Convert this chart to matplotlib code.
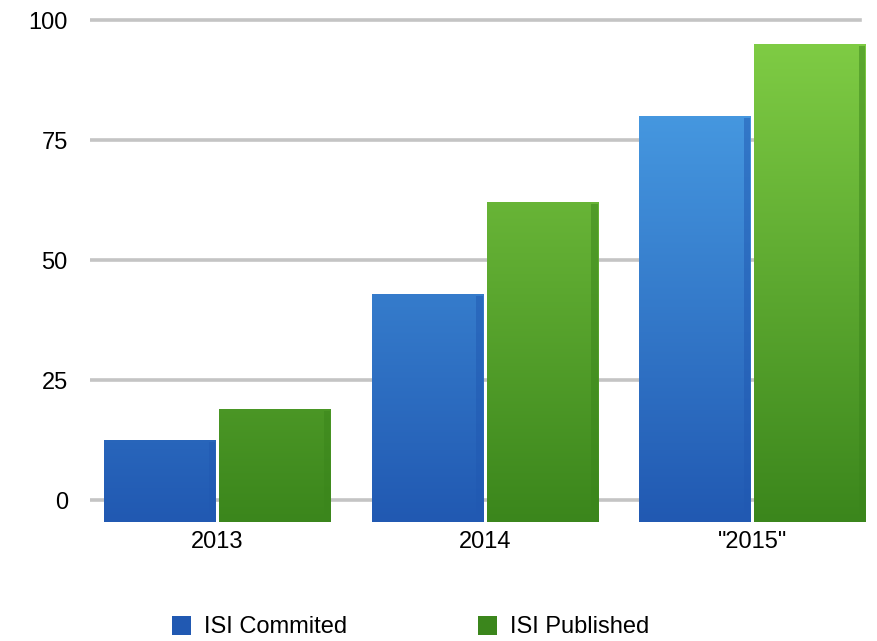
"""Grouped bars: ISI committed vs. published per year, Keynote-style gradient fill."""

import numpy as np
import matplotlib

matplotlib.use("Agg")
import matplotlib.pyplot as plt
from matplotlib.colors import LinearSegmentedColormap
from matplotlib.patches import Patch

years = ["2013", "2014", '"2015"']
committed = [12.5, 43, 80]
published = [19, 62, 95]
series_names = ["ISI Commited", "ISI Published"]
y_ticks = [0, 25, 50, 75, 100]

# top / bottom colour of each series' gradient (spans the full value range)
BLUE = ("#4ea6ea", "#2159b2")
GREEN = ("#82cf46", "#3b861c")
FLOOR = -4.5  # bars start slightly in front of the zero line, like the 3D floor
TOP = 100
BAR_W = 0.415

plt.rcParams["font.family"] = ["Liberation Sans", "DejaVu Sans"]

fig = plt.figure(figsize=(8.77, 6.41), dpi=100)
ax = fig.add_axes([90 / 877, 1 - 530 / 641, 780 / 877, 530 / 641])

for t in y_ticks:
    ax.axhline(t, xmin=0, xmax=0.987, color="#c4c4c4", lw=2.6, zorder=0)


def gradient_bar(x, value, colors):
    top, bottom = colors
    cmap = LinearSegmentedColormap.from_list("g", [bottom, top])
    rect = ax.bar(x, value - FLOOR, width=BAR_W, bottom=FLOOR, color="none",
                  edgecolor="none", zorder=2)[0]
    grad = np.linspace(0, 1, 256).reshape(-1, 1)
    x0 = x - BAR_W / 2
    img = ax.imshow(grad, cmap=cmap, origin="lower", aspect="auto",
                    extent=(x0, x0 + BAR_W, FLOOR, TOP), zorder=2)
    img.set_clip_path(rect)
    # darker side face on the right edge
    ax.bar(x0 + BAR_W - 0.012, value - FLOOR - 0.8, width=0.024,
           bottom=FLOOR + 0.4, color=bottom, alpha=0.5, zorder=3, edgecolor="none")


xs = np.arange(len(years))
offset = 0.215
for i in xs:
    gradient_bar(i - offset, committed[i], BLUE)
    gradient_bar(i + offset, published[i], GREEN)

ax.set_xlim(-0.475, 2.44)
ax.set_ylim(-6.25, 104.2)
ax.set_xticks(xs)
ax.set_xticklabels(years, fontsize=17)
ax.set_yticks(y_ticks)
ax.set_yticklabels([str(t) for t in y_ticks], fontsize=17)
ax.tick_params(length=0, pad=16)
ax.tick_params(axis="x", pad=1)
for spine in ax.spines.values():
    spine.set_visible(False)

handles = [Patch(facecolor=BLUE[1], edgecolor="none"),
           Patch(facecolor=GREEN[1], edgecolor="none")]
fig.legend(handles, series_names, loc="center", bbox_to_anchor=(0.468, 1 - 627 / 641),
           ncol=2, frameon=False, fontsize=17, handlelength=0.8, handleheight=0.9,
           columnspacing=5.55, handletextpad=0.55)

fig.savefig("out.png", dpi=100)
